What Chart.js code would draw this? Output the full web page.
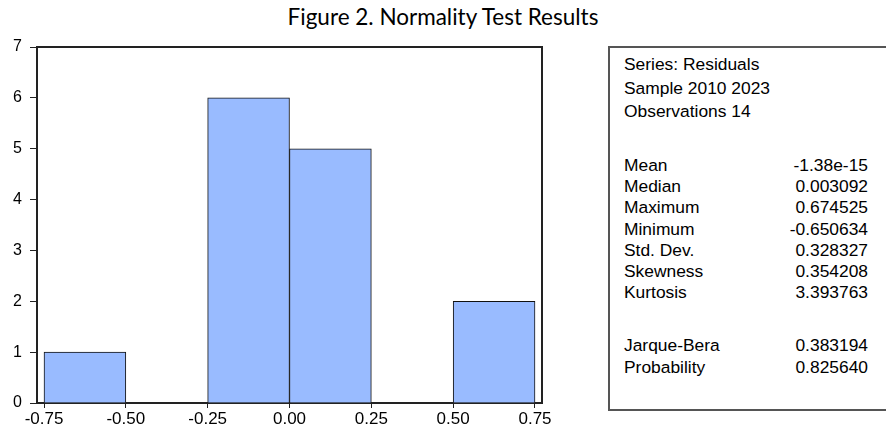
<!DOCTYPE html>
<html>
<head>
<meta charset="utf-8">
<script src="https://cdn.jsdelivr.net/npm/chart.js@4/dist/chart.umd.min.js"></script>
<style>
  html, body { margin: 0; padding: 0; background: #fff; overflow: hidden; }
  #wrap { position: relative; width: 886px; height: 432px; overflow: hidden; }
  #title {
    position: absolute; left: 0; top: 3px; width: 886px; text-align: center;
    font-family: Lato, "Open Sans", sans-serif; font-size: 22.5px; color: #000;
  }
  #chartBox { position: absolute; left: 0; top: 0; width: 560px; height: 432px; }
  #stats {
    position: absolute; left: 608px; top: 46px; width: 290px; height: 361px;
    border: 2px solid #555; border-right: none; box-sizing: content-box;
    font-family: "Liberation Sans", Arial, sans-serif; font-size: 17.4px; color: #000;
  }
  .grp { position: absolute; left: 14px; width: 244px; }
  .row { display: flex; justify-content: space-between; white-space: pre; }
</style>
</head>
<body>
<div id="wrap">
  <div id="title">Figure 2. Normality Test Results</div>
  <div id="chartBox"><canvas id="hist"></canvas></div>
  <div id="stats"></div>
</div>
<script>
// histogram bins (center of each 0.25-wide bin) and counts
const binCenters = [-0.625, -0.125, 0.125, 0.625];
const binCounts = [1, 6, 5, 2];
const xTicks = [-0.75, -0.50, -0.25, 0.00, 0.25, 0.50, 0.75];
const yTicks = [0, 1, 2, 3, 4, 5, 6, 7];

// stats panel
const headerLines = ['Series: Residuals', 'Sample 2010 2023', 'Observations 14'];
const statLabels = ['Mean', 'Median', 'Maximum', 'Minimum', 'Std. Dev.', 'Skewness', 'Kurtosis'];
const statValues = ['-1.38e-15', '0.003092', '0.674525', '-0.650634', '0.328327', '0.354208', '3.393763'];
const testLabels = ['Jarque-Bera', 'Probability'];
const testValues = ['0.383194', '0.825640'];

function addGroup(top, lineH, labels, values) {
  const g = document.createElement('div');
  g.className = 'grp';
  g.style.top = top + 'px';
  g.style.lineHeight = lineH + 'px';
  labels.forEach((lab, i) => {
    const r = document.createElement('div');
    r.className = 'row';
    const a = document.createElement('span');
    a.textContent = lab;
    r.appendChild(a);
    if (values) {
      const b = document.createElement('span');
      b.textContent = values[i];
      r.appendChild(b);
    }
    g.appendChild(r);
  });
  document.getElementById('stats').appendChild(g);
}
addGroup(5, 23.5, headerLines, null);
addGroup(107, 21.2, statLabels, statValues);
addGroup(287, 21.5, testLabels, testValues);

// frame around the plot area (top and right sides)
const frame = {
  id: 'frame',
  afterDraw(chart) {
    const { ctx, chartArea: a } = chart;
    ctx.save();
    ctx.strokeStyle = '#222';
    ctx.lineWidth = 2;
    ctx.beginPath();
    ctx.moveTo(a.left, a.top);
    ctx.lineTo(a.right, a.top);
    ctx.lineTo(a.right, a.bottom);
    ctx.stroke();
    ctx.restore();
  }
};

const fontFam = '"Liberation Sans", Arial, sans-serif';

new Chart(document.getElementById('hist'), {
  type: 'bar',
  data: {
    datasets: [{
      data: binCenters.map((x, i) => ({ x, y: binCounts[i] })),
      backgroundColor: '#99bbff',
      borderColor: '#111',
      borderWidth: 1,
      barPercentage: 1,
      categoryPercentage: 1
    }]
  },
  options: {
    responsive: true,
    maintainAspectRatio: false,
    animation: false,
    layout: { padding: { top: 47, right: 18, left: 0, bottom: 0 } },
    scales: {
      x: {
        type: 'linear',
        min: -0.7714,
        max: 0.7714,
        offset: false,
        afterBuildTicks: (axis) => { axis.ticks = xTicks.map(v => ({ value: v })); },
        afterFit: (axis) => { axis.height = 29; },
        grid: { offset: false, drawOnChartArea: false, drawTicks: true, tickLength: 5, color: '#222' },
        border: { display: true, color: '#222', width: 2 },
        ticks: {
          color: '#000', font: { family: fontFam, size: 17 }, padding: 1, maxRotation: 0, autoSkip: false,
          callback: (v) => v.toFixed(2)
        }
      },
      y: {
        min: 0,
        max: 7,
        afterBuildTicks: (axis) => { axis.ticks = yTicks.map(v => ({ value: v })); },
        afterFit: (axis) => { axis.width = 37; },
        grid: { drawOnChartArea: false, drawTicks: true, tickLength: 7, color: '#222' },
        border: { display: true, color: '#222', width: 2 },
        ticks: { color: '#000', font: { family: fontFam, size: 16 }, padding: 8 }
      }
    },
    plugins: {
      legend: { display: false },
      tooltip: { enabled: false }
    }
  },
  plugins: [frame]
});
</script>
</body>
</html>
